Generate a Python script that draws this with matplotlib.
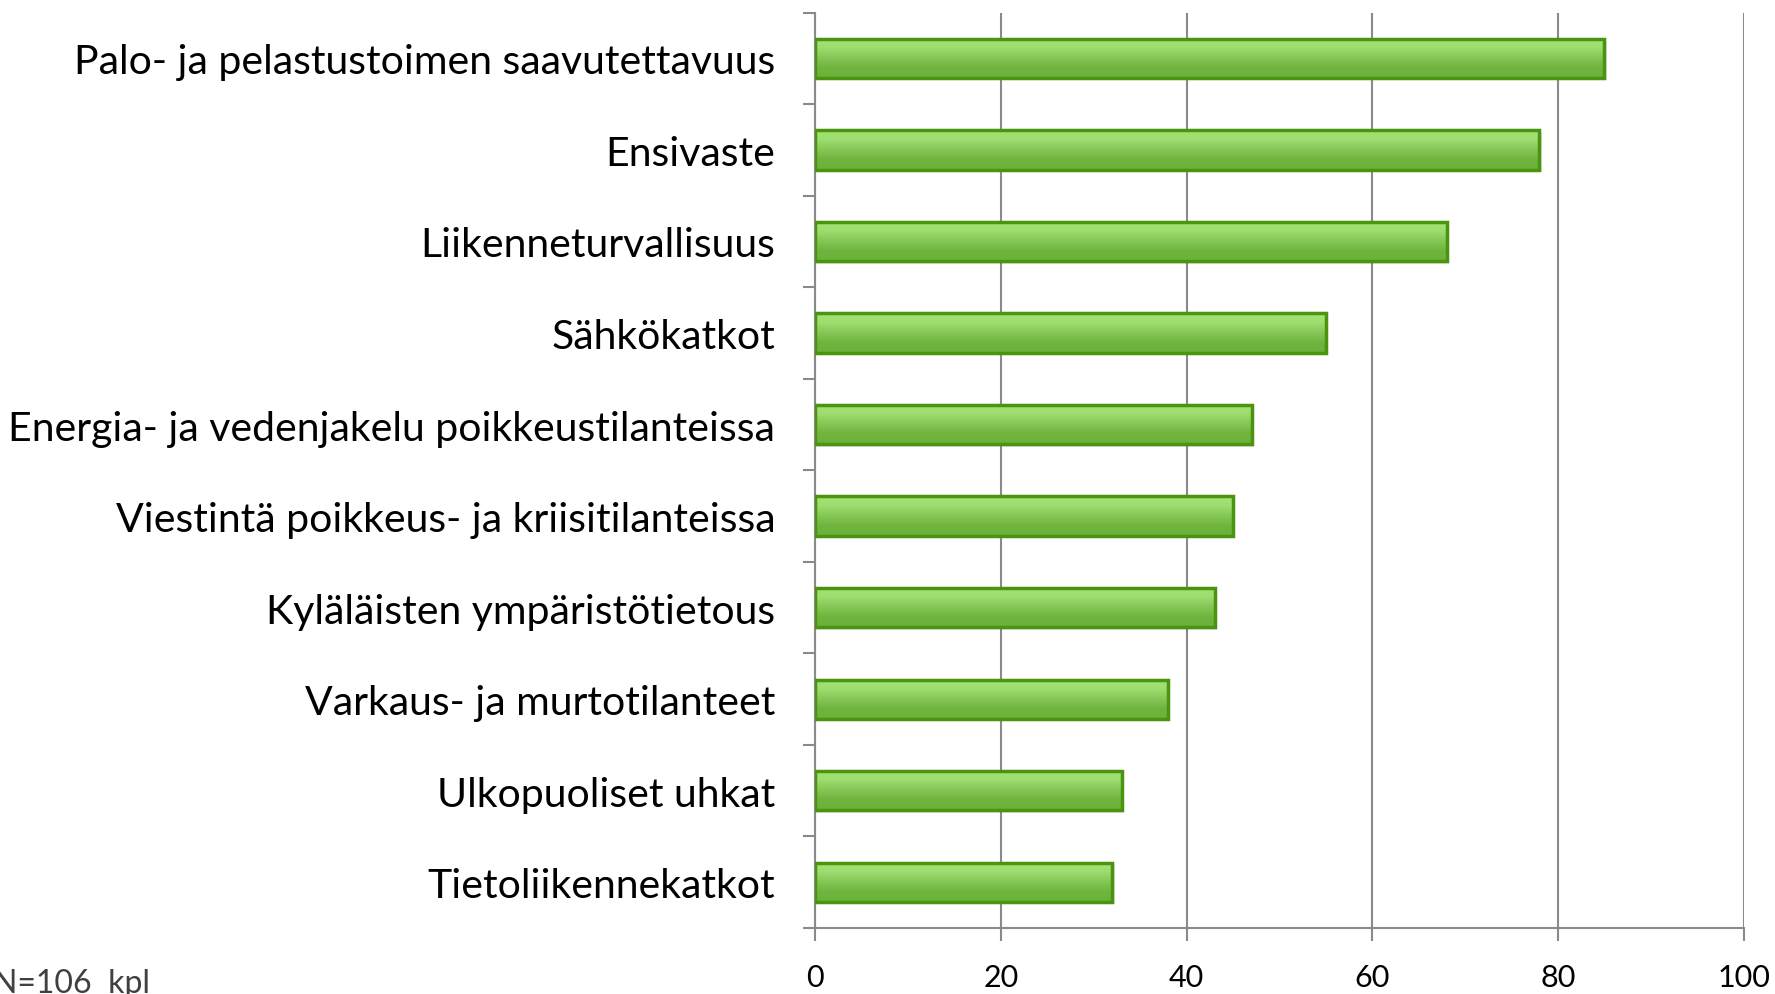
import matplotlib
matplotlib.use("Agg")
import matplotlib.pyplot as plt
import numpy as np
from matplotlib.colors import LinearSegmentedColormap

categories = [
    "Palo- ja pelastustoimen saavutettavuus",
    "Ensivaste",
    "Liikenneturvallisuus",
    "Sähkökatkot",
    "Energia- ja vedenjakelu poikkeustilanteissa",
    "Viestintä poikkeus- ja kriisitilanteissa",
    "Kyläläisten ympäristötietous",
    "Varkaus- ja murtotilanteet",
    "Ulkopuoliset uhkat",
    "Tietoliikennekatkot",
]
values = [85, 78, 68, 55, 47, 45, 43, 38, 33, 32]
xticks = [0, 20, 40, 60, 80, 100]
note = "N=106  kpl"

plt.rcParams['font.family'] = ['Lato', 'DejaVu Sans']

fig = plt.figure(figsize=(17.75, 9.95), dpi=100)
ax = fig.add_axes([0.4594, 0.0663, 0.9823 - 0.4594, 0.9863 - 0.0663])

y = np.arange(len(categories))
bars = ax.barh(y, values, height=0.43, color='none', edgecolor='#4a9410',
               linewidth=2.5, zorder=4)

cmap = LinearSegmentedColormap.from_list('g', ['#a4e475', '#9ddc6e', '#84c655', '#6fb43e', '#6ab23a'])
grad = np.linspace(0, 1, 256).reshape(-1, 1)
for b in bars:
    x0, y0 = b.get_x(), b.get_y()
    w, h = b.get_width(), b.get_height()
    sh = plt.Rectangle((x0, y0 + h * 0.06), w + 0.25, h * 1.0, facecolor='#000000',
                       alpha=0.10, edgecolor='none', zorder=2)
    ax.add_patch(sh)
    im = ax.imshow(grad, extent=[x0, x0 + w, y0 + h, y0], aspect='auto',
                   cmap=cmap, zorder=3, interpolation='bilinear')
    im.set_clip_path(b)

ax.set_xlim(0, 100)
ax.set_ylim(len(categories) - 0.5, -0.5)
ax.set_xticks(xticks)
ax.set_xticklabels([str(v) for v in xticks])
ax.set_yticks(y)
ax.set_yticklabels(categories)
ax.set_yticks(np.arange(-0.5, len(categories), 1.0), minor=True)

ax.xaxis.grid(True, color='#8a8a8a', linewidth=1.5, zorder=0)
ax.set_axisbelow(True)

for s in ['top', 'right']:
    ax.spines[s].set_visible(False)
for s in ['left', 'bottom']:
    ax.spines[s].set_color('#8a8a8a')
    ax.spines[s].set_linewidth(1.5)

ax.tick_params(axis='y', which='major', length=0, pad=29, labelsize=29.5, labelcolor='#000000')
ax.tick_params(axis='y', which='minor', length=9, width=1.5, color='#8a8a8a', direction='out')
ax.tick_params(axis='x', which='major', length=9, width=1.5, color='#8a8a8a',
               direction='out', pad=16, labelsize=22, labelcolor='#000000')

fig.text(-0.004, -0.004, note, fontsize=23, color='#404040', ha='left', va='bottom')

fig.savefig('out.png', dpi=100)
